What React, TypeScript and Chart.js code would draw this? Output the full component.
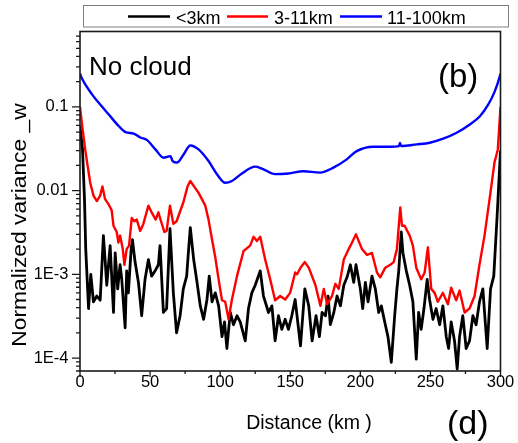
import React, { useEffect, useRef } from "react";
import { Chart, registerables } from "chart.js";

Chart.register(...registerables);

// Distance along the flight track (km) and normalized vertical-velocity variance per band
const distBlack = [0, 1.8, 3.2, 4.1, 6.1, 7.7, 9.6, 12, 14.4, 16.7, 17.9, 19.1, 21.5, 23.9, 25.1, 26.9, 28.6, 29.8, 32.2, 33.3, 34.5, 36.5, 37.4, 39.3, 41.7, 44, 46.4, 48.8, 51.1, 53.6, 55.9, 57.1, 59.5, 61.8, 64.2, 66.6, 68.9, 71.4, 73.7, 76.1, 77.5, 78.7, 81.1, 83.5, 85.8, 88.2, 90.6, 92.2, 94.2, 96.5, 98.9, 101.3, 103.1, 104.8, 107.2, 109.5, 112, 114.3, 117.9, 120.2, 122.6, 125, 128.6, 130.9, 134.5, 136.9, 139.2, 141.6, 144, 146.4, 148.7, 151.1, 153.5, 157.3, 160.4, 163.2, 165.6, 168.4, 170.8, 172.7, 175.1, 177, 178.6, 181.1, 183.4, 185.8, 188.2, 190.5, 192.9, 195.3, 196.9, 200, 201.7, 203.6, 205.5, 208.3, 210.7, 213.1, 215, 217.4, 219.7, 222.1, 224.5, 226.1, 227.4, 229.2, 230.4, 232.8, 235.2, 237.5, 239.9, 241.6, 243.4, 245.4, 247.7, 249.4, 251.8, 254.1, 256.6, 258.9, 261.3, 263, 264.8, 267.2, 269.1, 270.8, 273.1, 275.5, 277.9, 280.3, 282.6, 285, 287.4, 290.5, 292.9, 295.2, 297.6, 300];
const varBlack = [0.06, 0.031, 0.0079, 0.002, 0.00039, 0.001, 0.00047, 0.00055, 0.00049, 0.0029, 0.0015, 0.00074, 0.0022, 0.00035, 0.0018, 0.00067, 0.0013, 0.00087, 0.00023, 0.0011, 0.0006, 0.002, 0.0026, 0.0014, 0.0008, 0.00032, 0.00087, 0.0015, 0.00095, 0.0011, 0.0013, 0.0022, 0.00035, 0.00039, 0.0035, 0.0006, 0.0002, 0.00032, 0.00067, 0.00095, 0.002, 0.0036, 0.0015, 0.0008, 0.00042, 0.00029, 0.0005, 0.00095, 0.00047, 0.0006, 0.00042, 0.00018, 0.00027, 0.00013, 0.00035, 0.00025, 0.00032, 0.00027, 0.00016, 0.00039, 0.0006, 0.00074, 0.0011, 0.00055, 0.00035, 0.00042, 0.00016, 0.00032, 0.00022, 0.00029, 0.00022, 0.00032, 0.0005, 0.00014, 0.00067, 0.00042, 0.00016, 0.00032, 0.00018, 0.00035, 0.00032, 0.00055, 0.00025, 0.00035, 0.00055, 0.00042, 0.00074, 0.00092, 0.0013, 0.0008, 0.0013, 0.00067, 0.00039, 0.0008, 0.00047, 0.00095, 0.00067, 0.00035, 0.00042, 0.00027, 0.00018, 0.000089, 0.00032, 0.00067, 0.0011, 0.0032, 0.0018, 0.0011, 0.00074, 0.00047, 0.000097, 0.00035, 0.00022, 0.00039, 0.00087, 0.0005, 0.00029, 0.00039, 0.00025, 0.00042, 0.00018, 0.00013, 0.00027, 0.00016, 0.000074, 0.00018, 0.00032, 0.00013, 0.00016, 0.00032, 0.00025, 0.00047, 0.00067, 0.00013, 0.00067, 0.00095, 0.005, 0.03];

const distRed = [0, 1.6, 3.7, 5.1, 7.3, 9.6, 12, 14.4, 16, 17.9, 20.3, 22.6, 23.9, 26.2, 27.4, 28.6, 30.5, 31.7, 33.3, 35, 36.9, 38.8, 40.5, 42.9, 45.2, 48.8, 51.1, 54, 55.9, 57.8, 60.2, 61.8, 64.2, 66.6, 68.9, 73.7, 76.8, 78.7, 84.6, 89.4, 91.7, 94.2, 96.5, 98.9, 101.3, 103.6, 106, 108.4, 112, 116.7, 121.4, 123.8, 126.2, 128.6, 132.1, 135.7, 139.2, 142.8, 146.4, 149.9, 153.5, 154.9, 157.3, 160.4, 163.2, 168, 171.5, 173.9, 176.3, 179.8, 182.2, 184.6, 188.2, 191.7, 194.1, 196.9, 201.2, 204.8, 208.3, 211.9, 214.2, 217.8, 221.4, 223.8, 226.1, 228.5, 229.7, 231.6, 235.2, 237.5, 239.9, 243.4, 245.9, 248.2, 250.6, 253, 255.3, 258.9, 262.5, 264.8, 268.4, 270.8, 274.4, 277.9, 281.5, 285, 288.6, 292.2, 295.7, 298.1, 300];
const varRed = [0.1, 0.059, 0.031, 0.0216, 0.0124, 0.0087, 0.0075, 0.0087, 0.0112, 0.0079, 0.0069, 0.0058, 0.0038, 0.0032, 0.0024, 0.0029, 0.002, 0.0013, 0.002, 0.0022, 0.0047, 0.0043, 0.0045, 0.0033, 0.004, 0.0066, 0.0055, 0.0045, 0.0055, 0.0043, 0.0032, 0.0033, 0.0066, 0.004, 0.0043, 0.0072, 0.0113, 0.013, 0.0094, 0.0066, 0.0045, 0.0026, 0.0016, 0.00087, 0.00049, 0.00047, 0.00029, 0.0005, 0.00095, 0.0019, 0.0022, 0.0028, 0.0025, 0.0028, 0.0015, 0.00087, 0.00049, 0.00055, 0.0005, 0.0006, 0.00105, 0.001, 0.0012, 0.0014, 0.0012, 0.00074, 0.00042, 0.00067, 0.00044, 0.00055, 0.00077, 0.00067, 0.0015, 0.002, 0.0024, 0.003, 0.002, 0.0017, 0.0018, 0.00105, 0.00092, 0.0012, 0.0013, 0.0014, 0.002, 0.0063, 0.0038, 0.0038, 0.0029, 0.0022, 0.0012, 0.00087, 0.00105, 0.0021, 0.00067, 0.0006, 0.00047, 0.0006, 0.00044, 0.00069, 0.00049, 0.00064, 0.00035, 0.00039, 0.00055, 0.0013, 0.0029, 0.0079, 0.0216, 0.031, 0.1];

const distBlue = [0, 1, 8.7, 15.8, 20.5, 27.6, 32.4, 38.3, 43.1, 47.9, 53.8, 59.7, 64.5, 66.1, 69.2, 73.9, 78.7, 84.6, 91.7, 97.7, 103.6, 108.4, 115.5, 125, 129.8, 139.2, 148.7, 159.4, 171.3, 180.8, 190.3, 197.4, 209.3, 221.2, 227.6, 228.3, 229, 240.2, 249.6, 259.1, 268.7, 278.1, 285.3, 291.2, 295.9, 299.5, 300];
const varBlue = [0.25, 0.225, 0.14, 0.1, 0.081, 0.059, 0.05, 0.048, 0.043, 0.04, 0.031, 0.0247, 0.0258, 0.0225, 0.0216, 0.027, 0.0346, 0.031, 0.0225, 0.0157, 0.0124, 0.013, 0.016, 0.0193, 0.0183, 0.0157, 0.016, 0.017, 0.0164, 0.0188, 0.0236, 0.0296, 0.0334, 0.0334, 0.034, 0.037, 0.034, 0.0356, 0.0373, 0.0416, 0.049, 0.0616, 0.0773, 0.106, 0.153, 0.231, 0.25];

const seriesNames = ["<3km", "3-11km", "11-100km"];
const seriesColors = ["#000000", "#ff0000", "#0000ff"];

const xTickValues = [0, 50, 100, 150, 200, 250, 300];
const xMinorValues = [25, 75, 125, 175, 225, 275];
const yTickValues = [1e-4, 1e-3, 0.01, 0.1];
const yTickLabels = ["1E-4", "1E-3", "0.01", "0.1"];

const FONT = "'Liberation Sans', Arial, sans-serif";

const toPoints = (xs: number[], ys: number[]) => xs.map((x, i) => ({ x, y: ys[i] }));

const decorations = {
  id: "decorations",
  afterDraw(chart: any) {
    const { ctx, chartArea: a, scales } = chart;
    const xs = scales.x;
    const ys = scales.y;
    ctx.save();

    // plot frame
    ctx.strokeStyle = "#1a1a1a";
    ctx.lineWidth = 1.6;
    ctx.strokeRect(a.left, a.top, a.right - a.left, a.bottom - a.top);

    // tick marks
    ctx.lineWidth = 1.3;
    ctx.beginPath();
    xTickValues.forEach((v) => {
      const p = xs.getPixelForValue(v);
      ctx.moveTo(p, a.bottom);
      ctx.lineTo(p, a.bottom + 6);
    });
    xMinorValues.forEach((v) => {
      const p = xs.getPixelForValue(v);
      ctx.moveTo(p, a.bottom);
      ctx.lineTo(p, a.bottom + 3);
    });
    for (let e = -5; e <= 0; e++) {
      for (let m = 1; m <= 9; m++) {
        const v = m * Math.pow(10, e);
        if (v < ys.min || v > ys.max) continue;
        const p = ys.getPixelForValue(v);
        ctx.moveTo(a.left, p);
        ctx.lineTo(a.left - (m === 1 ? 8 : 4), p);
      }
    }
    ctx.stroke();

    // axis titles
    ctx.fillStyle = "#000";
    ctx.textBaseline = "alphabetic";
    ctx.textAlign = "center";
    ctx.font = `19.5px ${FONT}`;
    ctx.fillText("Distance (km )", 309, 428.5);

    ctx.save();
    ctx.translate(25.5, 225);
    ctx.rotate(-Math.PI / 2);
    ctx.scale(1.14, 1);
    ctx.font = `20px ${FONT}`;
    ctx.fillText("Normalized variance _w", 0, 0);
    ctx.restore();

    // panel labels
    ctx.textAlign = "left";
    ctx.font = `26px ${FONT}`;
    ctx.fillText("No cloud", 89, 75);
    ctx.font = `33px ${FONT}`;
    ctx.fillText("(b)", 438, 86.5);
    ctx.font = `34px ${FONT}`;
    ctx.fillText("(d)", 447, 434);

    // legend
    ctx.strokeStyle = "#808080";
    ctx.lineWidth = 1;
    ctx.strokeRect(83.5, 5.5, 425, 21.5);
    const items = [
      { x0: 128, x1: 170, tx: 176 },
      { x0: 227, x1: 268, tx: 274 },
      { x0: 340, x1: 382, tx: 387 },
    ];
    ctx.font = `18px ${FONT}`;
    items.forEach((it, i) => {
      ctx.strokeStyle = seriesColors[i];
      ctx.lineWidth = 2.5;
      ctx.beginPath();
      ctx.moveTo(it.x0, 16.5);
      ctx.lineTo(it.x1, 16.5);
      ctx.stroke();
      ctx.fillStyle = "#000";
      ctx.fillText(seriesNames[i], it.tx, 23.5);
    });

    ctx.restore();
  },
};

export default function App() {
  const canvasRef = useRef<HTMLCanvasElement | null>(null);

  useEffect(() => {
    document.body.style.margin = "0";
    const canvas = canvasRef.current;
    if (!canvas) return;
    const chart = new Chart(canvas, {
      type: "line",
      data: {
        datasets: [
          {
            label: seriesNames[0],
            data: toPoints(distBlack, varBlack),
            borderColor: seriesColors[0],
            borderWidth: 2.8,
            order: 3,
          },
          {
            label: seriesNames[1],
            data: toPoints(distRed, varRed),
            borderColor: seriesColors[1],
            borderWidth: 2.4,
            order: 2,
          },
          {
            label: seriesNames[2],
            data: toPoints(distBlue, varBlue),
            borderColor: seriesColors[2],
            borderWidth: 2.4,
            cubicInterpolationMode: "monotone",
            order: 1,
          },
        ],
      },
      options: {
        responsive: false,
        animation: false,
        devicePixelRatio: 1,
        parsing: false,
        elements: { point: { radius: 0 }, line: { tension: 0, borderJoinStyle: "round" } },
        layout: { padding: { left: 0, right: 17.5, top: 31.5, bottom: 0 } },
        plugins: { legend: { display: false }, tooltip: { enabled: false } },
        scales: {
          x: {
            type: "linear",
            position: "bottom",
            min: 0,
            max: 300,
            grid: { display: false, drawTicks: false },
            border: { display: false },
            afterBuildTicks: (scale: any) => {
              scale.ticks = xTickValues.map((value) => ({ value }));
            },
            afterFit: (scale: any) => {
              scale.height = 72;
            },
            ticks: {
              color: "#000",
              padding: 2,
              maxRotation: 0,
              font: { family: FONT, size: 16.5 },
              callback: (v: any) => String(v),
            },
          },
          y: {
            type: "logarithmic",
            min: 7.26e-5,
            max: 0.794,
            grid: { display: false, drawTicks: false },
            border: { display: false },
            afterBuildTicks: (scale: any) => {
              scale.ticks = yTickValues.map((value) => ({ value }));
            },
            afterFit: (scale: any) => {
              scale.width = 80;
            },
            ticks: {
              color: "#000",
              padding: 11.5,
              font: { family: FONT, size: 16.5 },
              callback: (_v: any, i: number) => yTickLabels[i],
            },
          },
        },
      },
      plugins: [decorations],
    });
    return () => chart.destroy();
  }, []);

  return (
    <div style={{ width: 518, height: 443 }}>
      <canvas ref={canvasRef} width={518} height={443} style={{ display: "block" }} />
    </div>
  );
}
